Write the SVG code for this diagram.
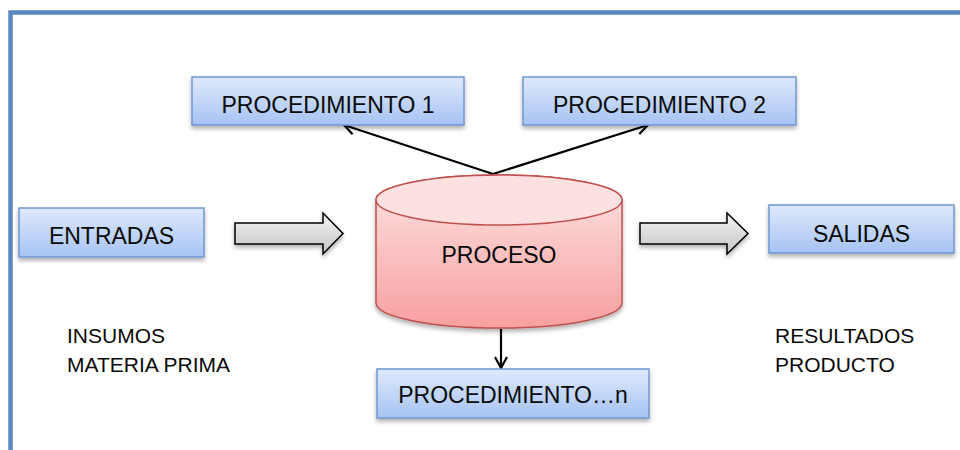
<svg xmlns="http://www.w3.org/2000/svg" width="960" height="450" viewBox="0 0 960 450">
  <style>
    .box { fill: url(#boxFill); stroke: #6f97d3; stroke-width: 1.5; filter: url(#shadow); }
    .label { font-family: "Liberation Sans", Arial, sans-serif; font-size: 23px; fill: #0a0a0a; text-anchor: middle; }
    .note { font-family: "Liberation Sans", Arial, sans-serif; font-size: 21px; fill: #0a0a0a; }
    .link { stroke: #000; stroke-width: 2.2; fill: none; marker-end: url(#openHead); }
    .block { fill: url(#arrowFill); stroke: #000; stroke-width: 1.5; filter: url(#shadow); }
  </style>
  <defs>
    <linearGradient id="boxFill" x1="0" y1="0" x2="0" y2="1">
      <stop offset="0" stop-color="#dfe9fc"/>
      <stop offset="1" stop-color="#a6c3f3"/>
    </linearGradient>
    <linearGradient id="cylFill" x1="0" y1="0" x2="0" y2="1">
      <stop offset="0" stop-color="#fde4e4"/>
      <stop offset="1" stop-color="#f89f9f"/>
    </linearGradient>
    <linearGradient id="arrowFill" x1="0" y1="0" x2="0" y2="1">
      <stop offset="0" stop-color="#f4f4f4"/>
      <stop offset="1" stop-color="#c4c4c4"/>
    </linearGradient>
    <filter id="shadow" x="-10%" y="-20%" width="120%" height="150%">
      <feDropShadow dx="0" dy="3" stdDeviation="2" flood-color="#000" flood-opacity="0.3"/>
    </filter>
    <marker id="openHead" viewBox="0 0 14 14" refX="12" refY="7" markerWidth="14" markerHeight="14" markerUnits="userSpaceOnUse" orient="auto">
      <path d="M1,1 L12,7 L1,13" fill="none" stroke="#000" stroke-width="2.2"/>
    </marker>
  </defs>

  <rect width="960" height="450" fill="#fff"/>

  <!-- outer frame: top and left edges only -->
  <path d="M10.5,450 L10.5,12.5 L960,12.5" fill="none" stroke="#5a87c0" stroke-width="4.5"/>

  <!-- connectors -->
  <g id="connectors">
    <line class="link" x1="493" y1="174" x2="344" y2="125"/>
    <line class="link" x1="493" y1="174" x2="648" y2="125"/>
    <line class="link" x1="501" y1="329" x2="501" y2="368"/>
    <path class="block" d="M235,223 L323,223 L323,213 L343,233.5 L323,254 L323,244 L235,244 Z"/>
    <path class="block" d="M640,223 L727,223 L727,213 L748,233.5 L727,254 L727,244 L640,244 Z"/>
  </g>

  <g id="proc1">
    <rect class="box" x="192" y="77" width="272" height="48"/>
    <text class="label" x="328" y="113">PROCEDIMIENTO 1</text>
  </g>

  <g id="proc2">
    <rect class="box" x="523" y="77" width="273" height="48"/>
    <text class="label" x="659.5" y="113">PROCEDIMIENTO 2</text>
  </g>

  <g id="entradas">
    <rect class="box" x="19" y="208" width="185" height="49"/>
    <text class="label" x="111.5" y="244">ENTRADAS</text>
  </g>

  <g id="salidas">
    <rect class="box" x="769" y="205" width="185" height="48"/>
    <text class="label" x="861.5" y="242">SALIDAS</text>
  </g>

  <g id="proceso">
    <path d="M376,200 L376,303 A123,25 0 0 0 622,303 L622,200 A123,25 0 0 0 376,200 Z" fill="url(#cylFill)" stroke="#c0504d" stroke-width="1.5" filter="url(#shadow)"/>
    <ellipse cx="499" cy="200" rx="123" ry="25" fill="#fde1e1" stroke="#c0504d" stroke-width="1.5"/>
    <text class="label" x="499" y="263">PROCESO</text>
  </g>

  <g id="procN">
    <rect class="box" x="377" y="369" width="272" height="49"/>
    <text class="label" x="513" y="403">PROCEDIMIENTO…n</text>
  </g>

  <g id="insumos">
    <text class="note" x="67" y="343">INSUMOS</text>
    <text class="note" x="67" y="372">MATERIA PRIMA</text>
  </g>

  <g id="resultados">
    <text class="note" x="775" y="343">RESULTADOS</text>
    <text class="note" x="775" y="372">PRODUCTO</text>
  </g>
</svg>
